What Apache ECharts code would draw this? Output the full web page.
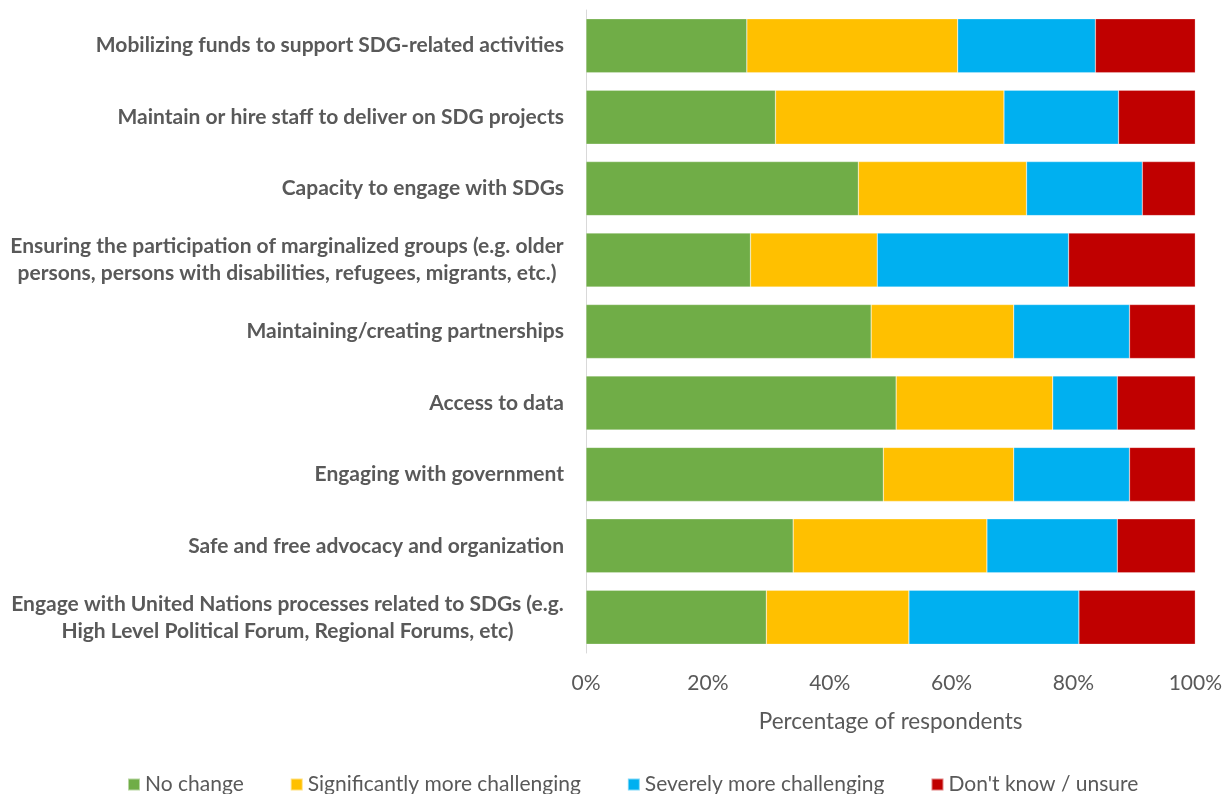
<!DOCTYPE html>
<html><head><meta charset="utf-8">
<script src="https://cdn.jsdelivr.net/npm/echarts@6/dist/echarts.min.js"></script>
<style>html,body{margin:0;padding:0;background:#fff}#c{width:1225px;height:794px}</style>
</head><body><div id="c"></div>
<script>
const categories = [
  "Mobilizing funds to support SDG-related activities",
  "Maintain or hire staff to deliver on SDG projects",
  "Capacity to engage with SDGs",
  "Ensuring the participation of marginalized groups (e.g. older\npersons, persons with disabilities, refugees, migrants, etc.)",
  "Maintaining/creating partnerships",
  "Access to data",
  "Engaging with government",
  "Safe and free advocacy and organization",
  "Engage with United Nations processes related to SDGs (e.g.\nHigh Level Political Forum, Regional Forums, etc)"
];
const seriesNames = ["No change", "Significantly more challenging", "Severely more challenging", "Don't know / unsure"];
const noChange      = [26.4, 31.1, 44.7, 27.0, 46.8, 50.9, 48.8, 34.0, 29.6];
const significantly = [34.6, 37.5, 27.6, 20.8, 23.4, 25.7, 21.4, 31.8, 23.4];
const severely      = [22.6, 18.8, 19.0, 31.4, 19.0, 10.6, 19.0, 21.4, 27.9];
const dontKnow      = [16.4, 12.6,  8.7, 20.8, 10.8, 12.8, 10.8, 12.8, 19.1];
const xTicks = [0, 20, 40, 60, 80, 100];

const colors = ["#70AD47", "#FFC000", "#00B0F0", "#C00000"];
const FONT = "Lato";
const LFS = 21;
const labelFont = "bold " + LFS + "px " + FONT;

const cv = document.createElement('canvas').getContext('2d');
cv.font = labelFont;
const rich = {};
function keyFor(v) {
  const lines = v.split('\n');
  const w = Math.ceil(Math.max(...lines.map(l => cv.measureText(l).width)));
  return { lines, key: 'w' + w, w };
}
function fmt(v) {
  const k = keyFor(v);
  if (k.lines.length === 1) return v;
  return k.lines.map(l => '{' + k.key + '|' + l + '}').join('\n');
}
categories.forEach(c => {
  const k = keyFor(c);
  if (k.lines.length > 1) {
    rich[k.key] = { width: k.w, align: 'center', fontFamily: FONT, fontWeight: 'bold', fontSize: LFS, color: '#595959', lineHeight: 27 };
  }
});

const data = [noChange, significantly, severely, dontKnow];
const chart = echarts.init(document.getElementById('c'), null, { renderer: 'canvas' });
chart.setOption({
  animation: false,
  color: colors,
  grid: { left: 586, right: 27, top: 10, bottom: 141, containLabel: false },
  legend: {
    bottom: -6, left: 122, itemWidth: 12, itemHeight: 12, itemGap: 46,
    icon: 'rect',
    textStyle: { fontFamily: FONT, fontSize: 21, color: '#595959' },
    data: seriesNames
  },
  xAxis: {
    type: 'value', min: 0, max: 100, interval: 20,
    axisLine: { show: false }, axisTick: { show: false }, splitLine: { show: false },
    axisLabel: { formatter: v => xTicks.includes(v) ? v + '%' : '', margin: 20, fontFamily: FONT, fontSize: 21, color: '#595959' },
    name: 'Percentage of respondents', nameLocation: 'middle', nameGap: 57,
    nameTextStyle: { fontFamily: FONT, fontSize: 22.5, color: '#595959' }
  },
  yAxis: {
    type: 'category', inverse: true, data: categories,
    axisLine: { show: true, lineStyle: { color: '#d9d9d9', width: 1 } },
    axisTick: { show: false },
    axisLabel: { formatter: fmt, rich: rich, margin: 22, fontFamily: FONT, fontWeight: 'bold', fontSize: LFS, color: '#595959', lineHeight: 27 }
  },
  series: seriesNames.map((n, i) => ({
    name: n, type: 'bar', stack: 'total', barWidth: 54,
    data: data[i],
    itemStyle: { borderColor: 'rgba(255,255,255,0.5)', borderWidth: 0.5 }
  }))
});
</script></body></html>
